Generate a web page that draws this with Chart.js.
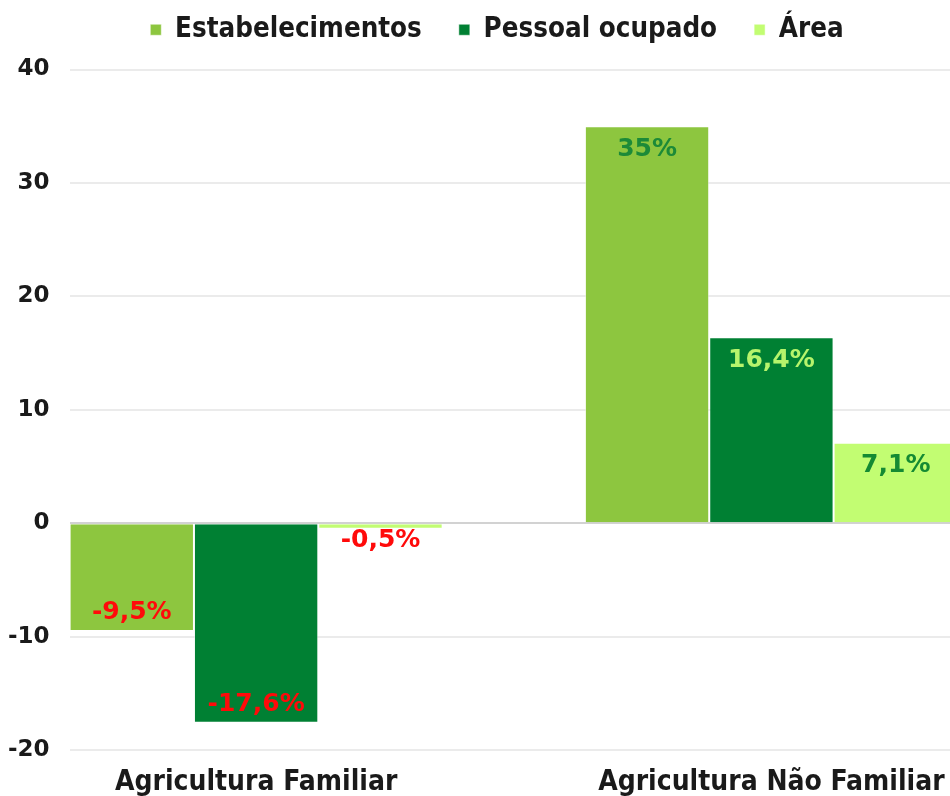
<!DOCTYPE html>
<html lang="pt-BR">
<head>
<meta charset="utf-8">
<title>Agricultura Familiar x Não Familiar</title>
<script src="https://cdn.jsdelivr.net/npm/chart.js@4.4.1/dist/chart.umd.min.js"></script>
<style>
  html, body { margin:0; padding:0; background:#fff; overflow:hidden; }
  #wrap { position:relative; width:950px; height:820px; }
</style>
</head>
<body>
<div id="wrap"><canvas id="chart"></canvas></div>
<script>
// ===== Data =====
const categories = ['Agricultura Familiar', 'Agricultura Não Familiar'];
const seriesNames = ['Estabelecimentos', 'Pessoal ocupado', 'Área'];
const estabelecimentos = [-9.5, 35];
const pessoalOcupado   = [-17.6, 16.4];
const area             = [-0.5, 7.1];
const yTicks = [-20, -10, 0, 10, 20, 30, 40];

// ===== Style =====
const barColors   = ['#8dc63f', '#008033', '#c2fd72'];
const labelColors = [['#ff0a0a', '#1c8a38'], ['#ff0a0a', '#b6f46c'], ['#ff0a0a', '#148a33']];
const condensed = '"DejaVu Sans Condensed", "Liberation Sans Narrow", sans-serif';

const fmt = v => String(v).replace('.', ',') + '%';

// legend: extra space below it, and nudge it right a bit
const legendTweak = {
  id: 'legendTweak',
  beforeInit(chart){
    const lg = chart.legend;
    if (!lg) return;
    const fitLegend = lg.fit, drawLegend = lg.draw;
    lg.fit = function(){ fitLegend.call(lg); this.height += 16; };
    lg.draw = function(){
      const ctx = chart.ctx;
      ctx.save(); ctx.translate(28, 0); drawLegend.call(lg); ctx.restore();
    };
  }
};

// value labels on the bars
const barLabels = {
  id: 'barLabels',
  afterDatasetsDraw(chart){
    const ctx = chart.ctx;
    ctx.save();
    ctx.font = 'bold 25px "DejaVu Sans"';
    ctx.textAlign = 'center';
    ctx.textBaseline = 'middle';
    chart.data.datasets.forEach((ds, di) => {
      chart.getDatasetMeta(di).data.forEach((bar, i) => {
        const v = ds.values[i];
        const h = Math.abs(bar.base - bar.y);
        let y;
        if (h < 40) y = v < 0 ? bar.y + 12 : bar.y - 12;
        else y = v < 0 ? bar.y - 18 : bar.y + 23;
        ctx.fillStyle = labelColors[di][i];
        ctx.fillText(fmt(v), bar.x, y);
      });
    });
    ctx.restore();
  }
};

const mkSet = (label, values, color) => ({
  label,
  values,
  data: values.map((y, x) => ({ x, y })),
  backgroundColor: color,
  borderColor: 'rgba(255,255,255,0.5)',
  borderWidth: 1,
  categoryPercentage: 0.724,
  barPercentage: 1
});

new Chart(document.getElementById('chart'), {
  type: 'bar',
  data: {
    datasets: [
      mkSet(seriesNames[0], estabelecimentos, barColors[0]),
      mkSet(seriesNames[1], pessoalOcupado, barColors[1]),
      mkSet(seriesNames[2], area, barColors[2])
    ]
  },
  options: {
    responsive: true, maintainAspectRatio: false, animation: false,
    layout: { padding: { top: -21, left: -12, right: 0, bottom: 4 } },
    plugins: {
      legend: {
        position: 'top',
        labels: { boxWidth: 11, boxHeight: 11, padding: 37, color: '#1a1a1a',
          font: { family: condensed, size: 27.5, weight: 'bold' } }
      },
      tooltip: { enabled: false }
    },
    scales: {
      x: {
        type: 'linear', min: -0.3621, max: 1.3466, offset: false,
        afterBuildTicks: s => { s.ticks = categories.map((c, i) => ({ value: i })); },
        // padding 0: a tick padding would also be added to the side padding of the axis
        ticks: { callback: v => categories[v], maxRotation: 0, padding: 0, color: '#1a1a1a',
          font: { family: condensed, size: 28, weight: 'bold', lineHeight: 2.357 } },
        grid: { display: false, drawTicks: false }, border: { display: false }
      },
      y: {
        min: yTicks[0], max: yTicks[yTicks.length - 1],
        afterBuildTicks: s => { s.ticks = yTicks.map(v => ({ value: v })); },
        ticks: { padding: 20, color: '#1a1a1a', font: { family: '"DejaVu Sans"', size: 23, weight: 'bold' } },
        grid: { drawTicks: false, lineWidth: 2, color: c => c.tick && c.tick.value === 0 ? '#d2d2d2' : '#ebebeb' },
        border: { display: false }
      }
    }
  },
  plugins: [legendTweak, barLabels]
});
</script>
</body>
</html>
